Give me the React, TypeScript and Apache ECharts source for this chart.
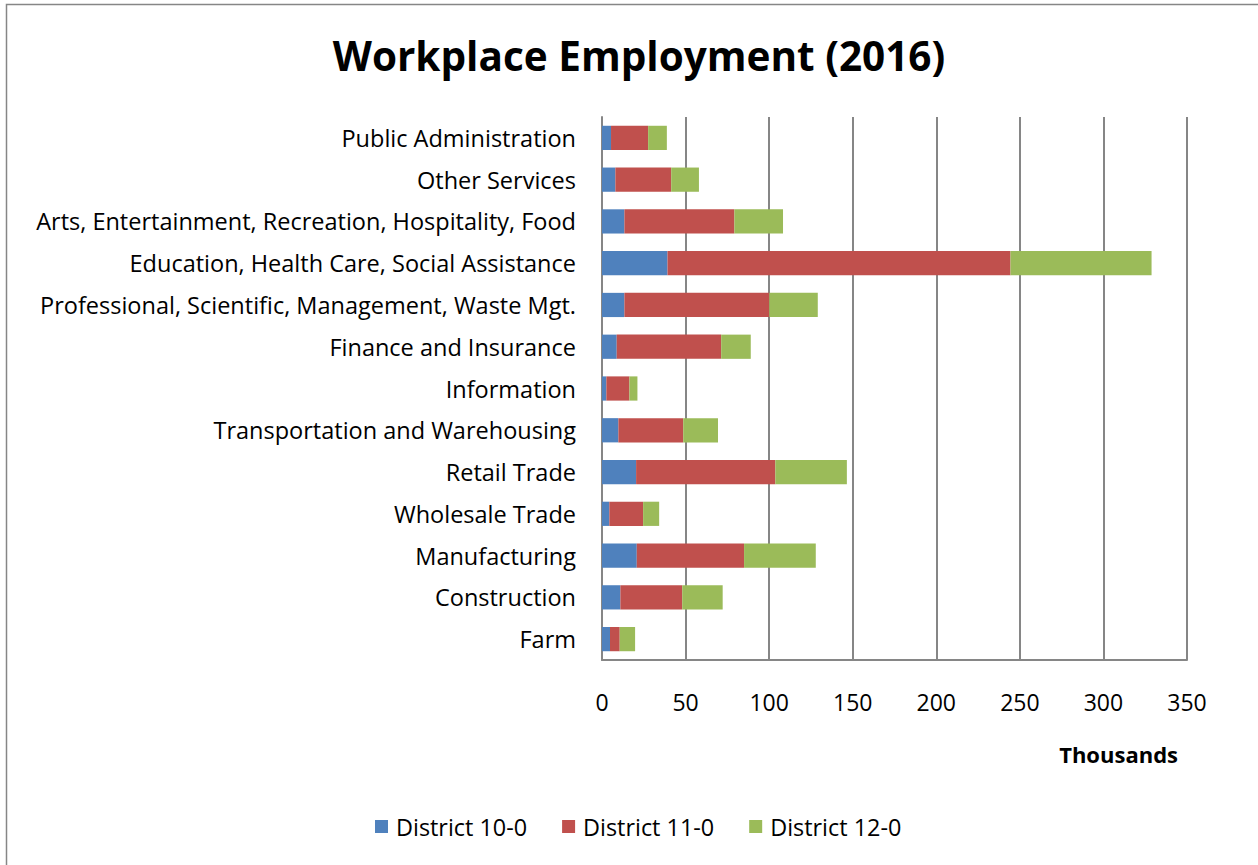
import React, { useEffect, useRef } from "react";
import * as echarts from "echarts";

const categories = [
  "Farm",
  "Construction",
  "Manufacturing",
  "Wholesale Trade",
  "Retail Trade",
  "Transportation and Warehousing",
  "Information",
  "Finance and Insurance",
  "Professional, Scientific, Management, Waste Mgt.",
  "Education, Health Care, Social Assistance",
  "Arts, Entertainment, Recreation, Hospitality, Food",
  "Other Services",
  "Public Administration",
];

const district10 = [4.8, 11.0, 20.8, 4.4, 20.4, 9.8, 2.6, 8.8, 13.4, 39.2, 13.4, 8.0, 5.4];
const district11 = [5.8, 37.0, 64.2, 20.2, 83.3, 38.8, 13.8, 62.5, 86.7, 205.2, 65.8, 33.4, 22.2];
const district12 = [9.2, 24.2, 42.9, 9.6, 42.8, 20.8, 4.8, 17.7, 29.0, 84.4, 29.1, 16.6, 11.2];

const seriesNames = ["District 10-0", "District 11-0", "District 12-0"];
const colors = ["#4F81BD", "#C0504D", "#9BBB59"];
const xTicks = { min: 0, max: 350, interval: 50 };

const FONT = "'Open Sans', 'Noto Sans', sans-serif";

export default function App() {
  const ref = useRef<HTMLDivElement>(null);
  useEffect(() => {
    document.body.style.margin = "0";
    const chart = echarts.init(ref.current!, undefined, { renderer: "svg" });
    const data = [district10, district11, district12];
    chart.setOption({
      animation: false,
      backgroundColor: "#ffffff",
      textStyle: { fontFamily: FONT },
      title: {
        text: "Workplace Employment (2016)",
        left: 634,
        textAlign: "center",
        top: 30,
        textStyle: { fontSize: 40.5, fontWeight: "bold", color: "#000", fontFamily: FONT },
      },
      graphic: [
        {
          type: "rect",
          shape: { x: 6.5, y: 4.5, width: 1260, height: 880 },
          style: { fill: "none", stroke: "#868686", lineWidth: 1.5 },
          silent: true,
        },
      ],
      legend: {
        top: 810,
        left: 370,
        itemWidth: 13,
        itemHeight: 13,
        itemGap: 35,
        icon: "rect",
        textStyle: { fontSize: 23.4, color: "#000", fontFamily: FONT, padding: [0, 0, 0, 3] },
        data: seriesNames,
      },
      grid: { left: 602, top: 117, right: 71, bottom: 205, containLabel: false },
      xAxis: {
        type: "value",
        min: xTicks.min,
        max: xTicks.max,
        interval: xTicks.interval,
        name: "Thousands",
        nameLocation: "end",
        nameGap: 0,
        nameTextStyle: {
          fontSize: 22,
          fontWeight: "bold",
          color: "#000",
          align: "right",
          verticalAlign: "top",
          padding: [83, 9, 0, 0],
        },
        axisLine: { show: true, lineStyle: { color: "#868686", width: 2 } },
        axisTick: { show: false },
        axisLabel: { fontSize: 23, color: "#000", margin: 30 },
        splitLine: { show: true, lineStyle: { color: "#868686", width: 2 } },
      },
      yAxis: {
        type: "category",
        data: categories,
        axisLine: { show: true, lineStyle: { color: "#868686", width: 2 } },
        axisTick: { show: false },
        axisLabel: { fontSize: 23.5, color: "#000", margin: 26 },
      },
      series: seriesNames.map((name, i) => ({
        name,
        type: "bar",
        stack: "total",
        data: data[i],
        barCategoryGap: "42%",
        itemStyle: { color: colors[i] },
      })),
    });
    return () => chart.dispose();
  }, []);
  return <div ref={ref} style={{ width: 1258, height: 865 }} />;
}
